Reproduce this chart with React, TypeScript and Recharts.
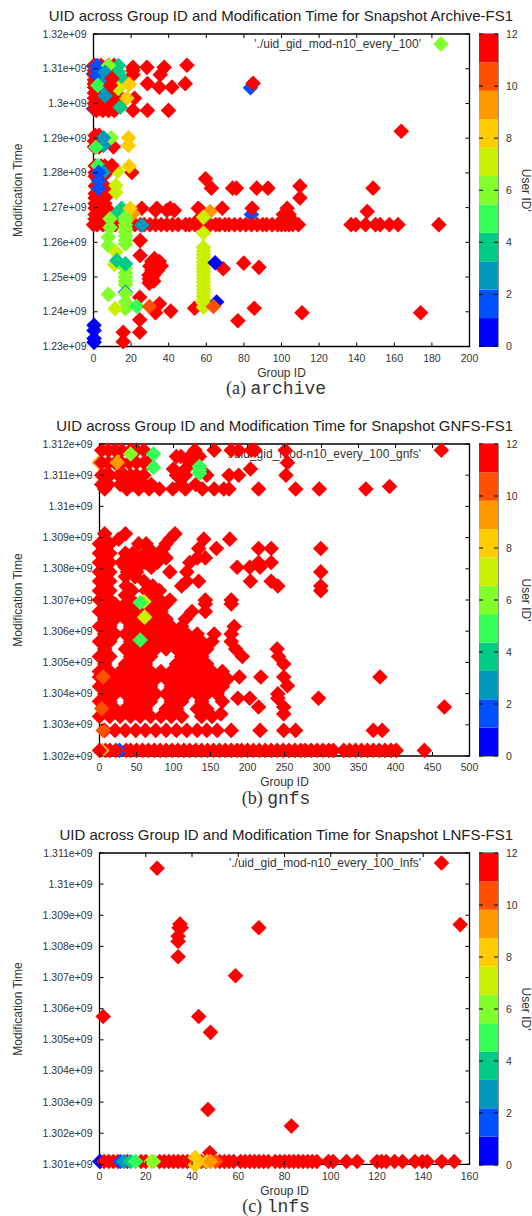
import { ScatterChart, Scatter, BarChart, Bar, XAxis, YAxis, ReferenceArea } from 'recharts';

type Mark = [number, number, number];
type Row = [number, number[]];

const bandColors = ['#0000ff', '#0050ff', '#0099bb', '#00cc88', '#33ff55', '#80ff2a', '#c8f000', '#ffcc00', '#ff9900', '#ff5000', '#ff0000'];
const bandValue = 12 / 11;
const colorTicks = [0, 2, 4, 6, 8, 10, 12];

// mark = [group id, modification time in 1e9 s, user id], drawn in list order
const archiveXTicks = [0, 20, 40, 60, 80, 100, 120, 140, 160, 180, 200];
const archiveYTicks = [1.23, 1.24, 1.25, 1.26, 1.27, 1.28, 1.29, 1.3, 1.31, 1.32];

const archiveUnder: Mark[] = [
  [0, 1.3108, 2], [0, 1.3085, 2], [0, 1.2985, 2], [83.5, 1.3045, 2], [65.5, 1.2428, 0], [84, 1.268, 2],
];
const archiveRedRows: Row[] = [
  [1.311, [0.5, 4, 8, 11, 49.7]],
  [1.3104, [21, 28.4, 37.6]],
  [1.3095, [0.5, 4, 9, 21]],
  [1.3083, [0.5, 5, 11, 21, 35.5]],
  [1.3068, [0.5, 4, 10]],
  [1.3057, [0.5, 5, 9, 28.7, 48.8]],
  [1.3047, [0.5, 5, 11, 35, 41.7]],
  [1.303, [0.5, 3, 6, 9, 12]],
  [1.3015, [0.5, 3, 6, 9, 12, 21.8]],
  [1.3, [0.5, 3, 6, 9, 12, 14]],
  [1.2985, [0.5, 3, 6, 9, 12]],
  [1.298, [1.5, 5, 8, 11, 21, 28.7, 39.9]],
  [1.292, [163.7]],
  [1.2908, [0.9, 3]],
  [1.2892, [0.5, 2.5]],
  [1.2875, [0.5, 3, 10.6]],
  [1.282, [0.9, 4, 6, 9.8]],
  [1.2801, [20.4, 0.9, 7]],
  [1.2783, [59.6]],
  [1.279, [0.9, 5]],
  [1.2762, [109.8, 1, 6]],
  [1.2756, [62.7, 74, 76, 86.8, 92.8, 148.7]],
  [1.2741, [8.4, 1, 3.5]],
  [1.2728, [109.8, 0.9, 3]],
  [1.2712, [0.9, 3, 6]],
  [1.2698, [25.7, 33.7, 40.8, 55.7, 68.5, 84.4, 103, 0.9, 4, 7]],
  [1.2692, [33, 39, 43, 57]],
  [1.2689, [145.6]],
  [1.268, [0.9, 3, 6, 9, 101, 104]],
  [1.2667, [0.9, 4, 7, 56, 101, 105]],
  [1.2651, [0, 2, 5, 7, 11.5, 22, 25, 27, 30, 33, 36, 39, 42, 45, 49, 51, 54, 57, 62, 65, 67, 70, 72, 75, 78, 81, 84, 87, 90, 92, 95, 98, 100, 102, 104, 106, 109, 137, 139.5, 144.7, 150, 152.5, 157.4, 162, 183.7]],
  [1.2605, [24.8]],
  [1.2562, [24.8]],
  [1.2553, [32.5]],
  [1.2545, [31, 35]],
  [1.254, [34.2, 79.9]],
  [1.2532, [30, 36]],
  [1.2528, [30.6, 34, 88]],
  [1.2524, [69]],
  [1.2518, [31, 34]],
  [1.2505, [29.5, 32]],
  [1.2495, [29.7, 31]],
  [1.2488, [30, 32]],
  [1.2482, [29.7]],
  [1.2442, [24.6]],
  [1.2423, [35.1]],
  [1.241, [53.8, 85.5]],
  [1.2402, [41.1]],
  [1.2397, [33, 110.9, 174]],
  [1.2377, [24.6]],
  [1.2374, [76.8]],
  [1.2341, [24.6, 15.8]],
  [1.2314, [15.8]],
];
const archiveOver: Mark[] = [
  [0.3, 1.2361, 0], [0.3, 1.2346, 0], [0.3, 1.2323, 0], [0.3, 1.2312, 0],
  [13.3, 1.3109, 4], [13.3, 1.309, 4], [16, 1.3066, 4], [14.2, 1.2989, 4],
  [2, 1.3109, 2], [1.8, 1.3095, 2], [1.8, 1.3081, 2], [8, 1.3109, 6], [6.2, 1.309, 3], [6.2, 1.3066, 3], [6.2, 1.3043, 3],
  [2.3, 1.3052, 5], [13.2, 1.3043, 7], [19, 1.3055, 8], [17.8, 1.3015, 8], [6.2, 1.3022, 3],
  [9.8, 1.3072, 12], [9, 1.3052, 12],
  [9.4, 1.2901, 6], [5.3, 1.2901, 3], [5.3, 1.2879, 3], [1.3, 1.2874, 5], [18.6, 1.2901, 8], [18.6, 1.2879, 8],
  [2.3, 1.2821, 5], [6.2, 1.2807, 3], [12.8, 1.2805, 7], [11.9, 1.2764, 7], [11.9, 1.2744, 7],
  [2.7, 1.2802, 2], [2.7, 1.2778, 2], [2.7, 1.2755, 2], [19, 1.2819, 8], [9.8, 1.2821, 12],
  [13.1, 1.2687, 4], [15, 1.2698, 4], [21, 1.2683, 9], [19.5, 1.2698, 8], [25.7, 1.2649, 3], [62, 1.2689, 9],
  [8.8, 1.2668, 6], [8.8, 1.2643, 6], [7.9, 1.2615, 6], [7.9, 1.2591, 6],
  [17, 1.2672, 6], [17, 1.2661, 6], [17, 1.265, 6], [17, 1.264, 6], [17, 1.263, 6], [17, 1.2618, 6], [17, 1.2605, 6], [17, 1.2595, 6],
  [11.9, 1.2572, 7], [11.1, 1.2536, 7],
  [17, 1.2525, 6], [17, 1.2512, 6], [17, 1.25, 6], [17, 1.2488, 6], [17, 1.2478, 6], [12.4, 1.2548, 4], [17, 1.2538, 4],
  [17, 1.2456, 3], [17, 1.2452, 6], [17, 1.2428, 6], [17, 1.2409, 6], [7.9, 1.245, 6], [11.5, 1.2409, 7], [23, 1.2416, 5], [29.7, 1.2415, 10],
  [58.5, 1.2672, 7], [58.5, 1.2627, 7], [58.5, 1.2586, 7], [58.5, 1.2575, 7], [58.5, 1.2565, 7], [58.5, 1.2555, 7], [58.5, 1.2545, 7],
  [58.5, 1.2535, 7], [58.5, 1.2525, 7], [58.5, 1.2515, 7], [58.5, 1.2505, 7], [58.5, 1.2495, 7], [58.5, 1.2485, 7], [58.5, 1.2475, 7],
  [58.5, 1.2465, 7], [58.5, 1.2455, 7], [58.5, 1.2445, 7], [58.5, 1.2435, 7], [58.5, 1.2425, 7], [58.5, 1.2413, 7],
  [64.7, 1.2541, 0], [63.8, 1.2415, 10], [84.9, 1.3058, 12], [184.8, 1.3171, 6],
];

const gnfsXTicks = [0, 50, 100, 150, 200, 250, 300, 350, 400, 450, 500];
const gnfsYTicks = [1.302, 1.303, 1.304, 1.305, 1.306, 1.307, 1.308, 1.309, 1.31, 1.311, 1.312];

const gnfsUnder: Mark[] = [
  [0, 1.31141, 9], [36, 1.30218, 12], [27, 1.30218, 2],
];
const gnfsRedRows: Row[] = [
  [1.3118, [3, 12, 21, 30, 42, 50, 60, 129, 155, 178, 188, 205, 210, 251, 462]],
  [1.3116, [104, 110, 135, 122]],
  [1.3114, [3, 12, 21, 30, 40, 50, 60, 65, 254, 122, 129]],
  [1.3112, [100, 116, 204, 135]],
  [1.311, [3, 8, 14, 26, 34, 42, 50, 60, 104, 116, 145, 175, 188, 252]],
  [1.3107, [3, 12, 28, 36, 44, 52, 60, 70, 110, 130]],
  [1.31056, [7, 37, 53, 67, 81, 99, 116, 139, 155, 168, 175, 215, 265, 297, 360]],
  [1.31064, [392]],
  [1.30912, [7, 35, 102]],
  [1.30895, [7, 26, 95, 176, 141]],
  [1.3088, [0, 14, 63, 53, 90]],
  [1.30865, [7, 67, 86, 158, 134, 215, 232, 299]],
  [1.3085, [0, 14, 35, 45, 62, 81]],
  [1.30835, [7, 40, 55, 74, 90, 132, 143]],
  [1.3082, [0, 14, 30, 48, 62, 78, 122, 232, 215]],
  [1.30805, [7, 35, 52, 70, 186, 203, 217]],
  [1.3079, [0, 14, 38, 50, 95, 118, 299]],
  [1.30775, [7, 35, 48]],
  [1.3076, [0, 14, 60, 134, 118, 204, 232]],
  [1.30745, [7, 36, 72, 111, 241, 299]],
  [1.3073, [0, 14, 44, 63, 81, 299]],
  [1.30715, [7, 35, 70]],
  [1.307, [0, 14, 42, 178, 95, 82, 143]],
  [1.30687, [7, 21, 35, 49, 62, 76, 90, 143, 178]],
  [1.30663, [0, 14, 28, 42, 55, 69, 83, 125, 143]],
  [1.30639, [7, 21, 35, 49, 62, 76, 90, 116]],
  [1.30615, [0, 14, 42, 55, 69, 83, 97, 111, 182]],
  [1.30591, [7, 21, 35, 49, 62, 76, 90, 104, 118, 132, 155, 178]],
  [1.30567, [0, 14, 42, 55, 69, 83, 97, 111, 124, 138, 152, 178]],
  [1.30543, [7, 35, 49, 62, 76, 90, 104, 118, 132, 145, 184, 240]],
  [1.30519, [0, 14, 42, 55, 69, 111, 124, 138, 193, 242]],
  [1.30495, [7, 35, 49, 62, 104, 118, 132, 145, 249]],
  [1.30471, [0, 14, 28, 42, 55, 69, 83, 97, 111, 124, 138, 152, 166]],
  [1.30453, [189, 218, 249, 379]],
  [1.30447, [7, 21, 35, 49, 62, 76, 90, 104, 118, 132, 145, 159, 173]],
  [1.30425, [254]],
  [1.30423, [0, 14, 28, 42, 55, 69, 97, 111, 124, 138, 152, 166]],
  [1.30399, [7, 21, 35, 49, 62, 76, 90, 104, 118, 132, 145, 159, 241]],
  [1.30385, [187, 203, 241, 296]],
  [1.30375, [0, 14, 42, 55, 69, 97, 111, 138, 166]],
  [1.30357, [215, 249, 466]],
  [1.30351, [7, 21, 35, 49, 62, 90, 104, 132, 145]],
  [1.30335, [249, 164]],
  [1.30327, [0, 14, 28, 42, 55, 69, 83, 97, 111, 138, 152]],
  [1.30282, [7, 21, 35, 49, 62, 76, 90, 104, 118, 132, 145, 159, 178, 217, 249, 265, 370, 382]],
  [1.30218, [42, 50, 58, 66, 74, 82, 90, 98, 106, 114, 122, 130, 138, 146, 154, 162, 170, 178, 186, 192, 200, 208, 216, 224, 232, 240, 248, 256, 264, 272, 278, 286, 294, 302, 310, 316, 330, 338, 346, 354, 362, 370, 378, 386, 394, 401, 439]],
];
const gnfsOver: Mark[] = [
  [42, 1.31168, 6], [24, 1.31141, 9], [73, 1.31168, 5], [73, 1.31125, 5], [135, 1.31128, 5], [135, 1.31117, 5], [135, 1.31106, 5],
  [60, 1.30695, 7], [55, 1.30692, 5], [61, 1.30645, 7], [55, 1.30572, 5],
  [0, 1.30453, 12], [5, 1.30453, 10], [3, 1.30352, 10], [5, 1.30282, 10],
  [22, 1.30218, 12], [14, 1.30218, 12], [8, 1.30218, 12], [3, 1.30218, 8], [0, 1.30218, 12],
];

const lnfsXTicks = [0, 20, 40, 60, 80, 100, 120, 140, 160];
const lnfsYTicks = [1.301, 1.302, 1.303, 1.304, 1.305, 1.306, 1.307, 1.308, 1.309, 1.31, 1.311];

const lnfsUnder: Mark[] = [
  [0.2, 1.30109, 2], [0.2, 1.30109, 0],
];
const lnfsRedRows: Row[] = [
  [1.30109, [2, 4, 6, 8, 12, 18, 20, 26, 28, 30, 32, 34, 36, 38, 44, 46, 52, 54, 56, 58, 61, 63, 65, 67, 69, 71, 73, 76, 78, 80, 82, 84, 86, 88, 90, 92, 94, 99, 101, 106.8, 111.4, 120, 122, 124, 127.6, 131, 136.4, 139.6, 141.7, 148, 153.4]],
  [1.31051, [24.9]],
  [1.31068, [147.9]],
  [1.30872, [34.8]],
  [1.3086, [34.4, 35.3, 68.9]],
  [1.30833, [34]],
  [1.30816, [34]],
  [1.30767, [34]],
  [1.3087, [156]],
  [1.30706, [58.8]],
  [1.30575, [1.6, 42.9]],
  [1.30524, [48]],
  [1.30276, [46.9]],
  [1.30223, [83]],
  [1.30137, [47.7]],
];
const lnfsOver: Mark[] = [
  [9, 1.30109, 2], [10.6, 1.30109, 3], [13.5, 1.30109, 4], [15.6, 1.30109, 5],
  [22.4, 1.30109, 7], [23.3, 1.30109, 6], [41.4, 1.30122, 8], [41.4, 1.30098, 8],
  [46.5, 1.30109, 8], [50.2, 1.30109, 10], [48, 1.30109, 9],
];

const toMarks = (under: Mark[], rows: Row[], over: Mark[]) => {
  const red = rows.flatMap(([mtime, gids]) => gids.map((gid): Mark => [gid, mtime, 12]));
  return [...under, ...red, ...over].map(([gid, mtime, uid]) => ({ gid, mtime, uid }));
};

const panels = [
  {
    title: 'UID across Group ID and Modification Time for Snapshot Archive-FS1',
    keyText: "'./uid_gid_mod-n10_every_100'",
    tag: '(a) ',
    name: 'archive',
    marks: toMarks(archiveUnder, archiveRedRows, archiveOver),
    xTicks: archiveXTicks,
    yTicks: archiveYTicks,
    left: 93.5,
    top: 33.5,
    bottom: 346,
    titleY: 16,
    captionY: 388,
  },
  {
    title: 'UID across Group ID and Modification Time for Snapshot GNFS-FS1',
    keyText: "'./uid_gid_mod-n10_every_100_gnfs'",
    tag: '(b) ',
    name: 'gnfs',
    marks: toMarks(gnfsUnder, gnfsRedRows, gnfsOver),
    xTicks: gnfsXTicks,
    yTicks: gnfsYTicks,
    left: 99.5,
    top: 443.5,
    bottom: 755.5,
    titleY: 426,
    captionY: 798,
  },
  {
    title: 'UID across Group ID and Modification Time for Snapshot LNFS-FS1',
    keyText: "'./uid_gid_mod-n10_every_100_lnfs'",
    tag: '(c) ',
    name: 'lnfs',
    marks: toMarks(lnfsUnder, lnfsRedRows, lnfsOver),
    xTicks: lnfsXTicks,
    yTicks: lnfsYTicks,
    left: 99.5,
    top: 853,
    bottom: 1165,
    titleY: 835,
    captionY: 1206,
  },
];

const SANS = '"Liberation Sans", Arial, sans-serif';
const PLOT_RIGHT = 469.5;
const BAR_LEFT = 479;
const BAR_WIDTH = 19;
const PAD_TOP = 10;
const PAD_BOTTOM = 40;
const TEXT = '#333';

const colorOf = (uid: number) => bandColors[Math.min(10, Math.floor((uid * 11) / 12))];

function Diamond(props: any) {
  const { cx, cy, payload } = props;
  const r = 7.8;
  return <polygon points={`${cx},${cy - r} ${cx + r},${cy} ${cx},${cy + r} ${cx - r},${cy}`} fill={colorOf(payload.uid)} />;
}

function XTick({ x, y, payload, plotHeight }: any) {
  return (
    <g>
      <line x1={x} x2={x} y1={y} y2={y - 4} stroke="#000" />
      <line x1={x} x2={x} y1={y - plotHeight} y2={y - plotHeight + 4} stroke="#000" />
      <text x={x} y={y + 15} textAnchor="middle" fontSize={10.5} fontFamily={SANS} fill={TEXT}>{payload.value}</text>
    </g>
  );
}

function YTick({ x, y, payload, plotWidth }: any) {
  return (
    <g>
      <line x1={x} x2={x + 4} y1={y} y2={y} stroke="#000" />
      <line x1={x + plotWidth} x2={x + plotWidth - 4} y1={y} y2={y} stroke="#000" />
      <text x={x - 7} y={y + 3.5} textAnchor="end" fontSize={10.5} fontFamily={SANS} fill={TEXT}>{`${payload.value}e+09`}</text>
    </g>
  );
}

function BarTick({ x, y, payload }: any) {
  return (
    <g>
      <line x1={x} x2={x - 4} y1={y} y2={y} stroke="#000" />
      <line x1={x - BAR_WIDTH} x2={x - BAR_WIDTH + 4} y1={y} y2={y} stroke="#000" />
      <text x={x + 8} y={y + 3.5} fontSize={10.5} fontFamily={SANS} fill={TEXT}>{payload.value}</text>
    </g>
  );
}

function Panel({ panel }: { panel: (typeof panels)[number] }) {
  const plotWidth = PLOT_RIGHT - panel.left;
  const plotHeight = panel.bottom - panel.top;
  const chartTop = panel.top - PAD_TOP;
  const chartHeight = plotHeight + PAD_TOP + PAD_BOTTOM;
  const xDomain = [panel.xTicks[0], panel.xTicks[panel.xTicks.length - 1]];
  const yDomain = [panel.yTicks[0], panel.yTicks[panel.yTicks.length - 1]];
  const barRow = Object.fromEntries([['name', 'uid'], ...bandColors.map((_, i) => [`b${i}`, bandValue])]);

  return (
    <>
      <div style={{ position: 'absolute', right: 19, top: panel.titleY - 9, lineHeight: '18px', fontFamily: SANS, fontSize: 15, color: '#222', whiteSpace: 'nowrap' }}>
        {panel.title}
      </div>
      <div style={{ position: 'absolute', right: 111, top: panel.top + 3, lineHeight: '14px', fontFamily: SANS, fontSize: 12, color: TEXT, whiteSpace: 'nowrap' }}>
        {panel.keyText}
      </div>
      <div style={{ position: 'absolute', left: 0, top: chartTop }}>
        <ScatterChart width={532} height={chartHeight} margin={{ top: PAD_TOP, right: 532 - PLOT_RIGHT, bottom: 0, left: 0 }}>
          <XAxis
            type="number"
            dataKey="gid"
            scale="linear"
            domain={xDomain}
            ticks={panel.xTicks}
            interval={0}
            height={PAD_BOTTOM}
            tickSize={0}
            tickMargin={0}
            axisLine={false}
            tick={(p: any) => <XTick {...p} plotHeight={plotHeight} />}
            label={{ value: 'Group ID', position: 'insideBottom', offset: 10, fontSize: 12, fontFamily: SANS, fill: TEXT }}
          />
          <YAxis
            type="number"
            dataKey="mtime"
            scale="linear"
            domain={yDomain}
            ticks={panel.yTicks}
            interval={0}
            width={panel.left}
            tickSize={0}
            tickMargin={0}
            axisLine={false}
            tick={(p: any) => <YTick {...p} plotWidth={plotWidth} />}
            label={{ value: 'Modification Time', angle: -90, position: 'insideLeft', offset: 18, textAnchor: 'middle', fontSize: 12, fontFamily: SANS, fill: TEXT }}
          />
          <Scatter data={panel.marks} shape={Diamond} isAnimationActive={false} />
          <ReferenceArea x1={xDomain[0]} x2={xDomain[1]} y1={yDomain[0]} y2={yDomain[1]} fill="none" stroke="#000" strokeWidth={1.3} ifOverflow="visible" />
        </ScatterChart>
      </div>
      <div style={{ position: 'absolute', left: BAR_LEFT, top: chartTop }}>
        <BarChart width={532 - BAR_LEFT} height={chartHeight} data={[barRow]} barCategoryGap={0} margin={{ top: PAD_TOP, right: 0, bottom: PAD_BOTTOM, left: 0 }}>
          <XAxis dataKey="name" hide />
          <YAxis
            orientation="right"
            domain={[0, 12]}
            ticks={colorTicks}
            interval={0}
            width={532 - BAR_LEFT - BAR_WIDTH}
            tickSize={0}
            tickMargin={0}
            axisLine={false}
            tick={(p: any) => <BarTick {...p} />}
            label={{ value: "User ID'", angle: 90, position: 'insideRight', offset: 6, textAnchor: 'middle', fontSize: 12, fontFamily: SANS, fill: TEXT }}
          />
          {bandColors.map((color, i) => (
            <Bar key={color} dataKey={`b${i}`} stackId="uid" fill={color} isAnimationActive={false} />
          ))}
          <ReferenceArea y1={0} y2={12} fill="none" stroke="#222" strokeWidth={1} ifOverflow="visible" />
        </BarChart>
      </div>
      <div style={{ position: 'absolute', left: 176, width: 200, textAlign: 'center', top: panel.captionY - 9, lineHeight: '18px', fontSize: 18, color: TEXT, whiteSpace: 'pre' }}>
        <span style={{ fontFamily: '"Liberation Serif", serif' }}>{panel.tag}</span>
        <span style={{ fontFamily: '"Liberation Mono", monospace' }}>{panel.name}</span>
      </div>
    </>
  );
}

export default function App() {
  return (
    <div style={{ position: 'absolute', left: 0, top: 0, width: 532, height: 1216, overflow: 'hidden', background: '#fff' }}>
      {panels.map((panel) => (
        <Panel key={panel.name} panel={panel} />
      ))}
    </div>
  );
}
